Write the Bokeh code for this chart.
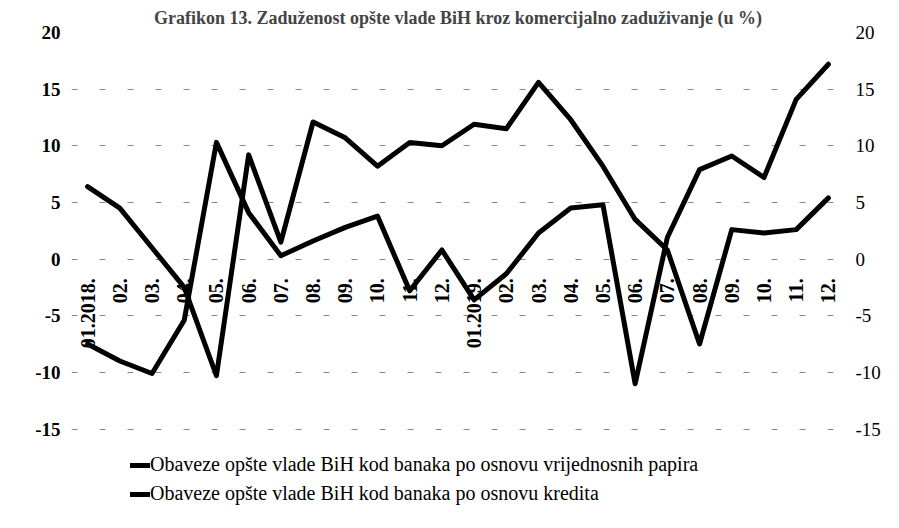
from bokeh.plotting import figure
from bokeh.models import LinearAxis, Range1d, Legend, LegendItem, ColumnDataSource, FixedTicker
from bokeh.core.properties import value
from bokeh.embed import file_html
from bokeh.resources import INLINE
import math

title_text = "Grafikon 13. Zaduženost opšte vlade BiH kroz komercijalno zaduživanje (u %)"
months = ["01.2018.", "02.", "03.", "04.", "05.", "06.", "07.", "08.", "09.", "10.", "11.", "12.",
          "01.2019.", "02.", "03.", "04.", "05.", "06.", "07.", "08.", "09.", "10.", "11.", "12."]
securities = [6.4, 4.5, 1.0, -2.5, -10.3, 9.2, 1.5, 12.1, 10.7, 8.2, 10.3, 10.0,
              11.9, 11.5, 15.6, 12.3, 8.2, 3.5, 0.8, -7.5, 2.6, 2.3, 2.6, 5.4]
credits = [-7.5, -9.0, -10.1, -5.4, 10.3, 4.1, 0.3, 1.6, 2.8, 3.8, -2.8, 0.8,
           -3.6, -1.3, 2.3, 4.5, 4.8, -11.0, 1.9, 7.9, 9.1, 7.2, 14.1, 17.2]
label_sec = "Obaveze opšte vlade BiH kod banaka po osnovu vrijednosnih papira"
label_cred = "Obaveze opšte vlade BiH kod banaka po osnovu kredita"
y_ticks = [-15, -10, -5, 0, 5, 10, 15, 20]
y_tick_labels = ["-15", "-10", "-5", "0", "5", "10", "15", "20"]

idx = list(range(len(months)))
serif = "Liberation Serif"
overrides = {t: s for t, s in zip(y_ticks, y_tick_labels)}

# frame: 20 at top, -15 about 394 px below; extended downward to hold the legend
p = figure(width=883, height=512, output_backend="svg", toolbar_location=None,
           x_axis_type=None,
           x_range=Range1d(-0.5, len(months) - 0.5), y_range=Range1d(-22.37, 20),
           min_border_left=0, min_border_right=0, min_border_top=28, min_border_bottom=0)
p.outline_line_color = None
p.background_fill_color = "white"
p.border_fill_color = "white"

p.title.text = title_text
p.title.text_font = serif
p.title.text_font_size = "18px"
p.title.text_font_style = "bold"
p.title.align = "center"
p.title.offset = 0

p.xgrid.visible = False
p.yaxis.ticker = FixedTicker(ticks=y_ticks)
p.ygrid.ticker = FixedTicker(ticks=y_ticks)
p.ygrid.grid_line_color = "#555555"
p.ygrid.grid_line_alpha = 0.7
p.ygrid.grid_line_dash = "6 22"
p.ygrid.grid_line_width = 1

lax = p.yaxis[0]
lax.axis_line_color = None
lax.major_tick_line_color = None
lax.minor_tick_line_color = None
lax.major_label_text_font = serif
lax.major_label_text_font_size = "19px"
lax.major_label_text_font_style = "bold"
lax.major_label_text_color = "black"
lax.major_label_standoff = 5
lax.major_label_overrides = overrides
lax.axis_label = " "
lax.axis_label_text_font_size = "10px"
lax.axis_label_standoff = 18

rax = LinearAxis(ticker=FixedTicker(ticks=y_ticks))
rax.axis_line_color = None
rax.major_tick_line_color = None
rax.minor_tick_line_color = None
rax.major_label_text_font = serif
rax.major_label_text_font_size = "19px"
rax.major_label_text_color = "black"
rax.major_label_standoff = 5
rax.major_label_overrides = overrides
p.add_layout(rax, "right")

src = ColumnDataSource(dict(x=idx, sec=securities, cred=credits, lab=months,
                            ly=[-1.7] * len(months)))

r1 = p.line("x", "sec", source=src, line_color="black", line_width=5,
            line_join="round", line_cap="round")
r2 = p.line("x", "cred", source=src, line_color="black", line_width=5,
            line_join="round", line_cap="round")

p.text("x", "ly", text="lab", source=src, angle=math.pi / 2,
       text_align="right", text_baseline="middle",
       text_font=value(serif), text_font_size="20px", text_font_style="bold",
       text_color="black")

legend = Legend(items=[LegendItem(label=label_sec, renderers=[r1]),
                       LegendItem(label=label_cred, renderers=[r2])],
                location=(59, 7), orientation="vertical")
legend.border_line_color = None
legend.background_fill_alpha = 0
legend.padding = 0
legend.margin = 0
legend.spacing = 6
legend.glyph_width = 20
legend.glyph_height = 22
legend.label_height = 22
legend.label_standoff = 0
legend.label_text_font = serif
legend.label_text_font_size = "20px"
legend.label_text_color = "black"
p.add_layout(legend, "center")

open("out.html", "w").write(file_html(p, INLINE))
